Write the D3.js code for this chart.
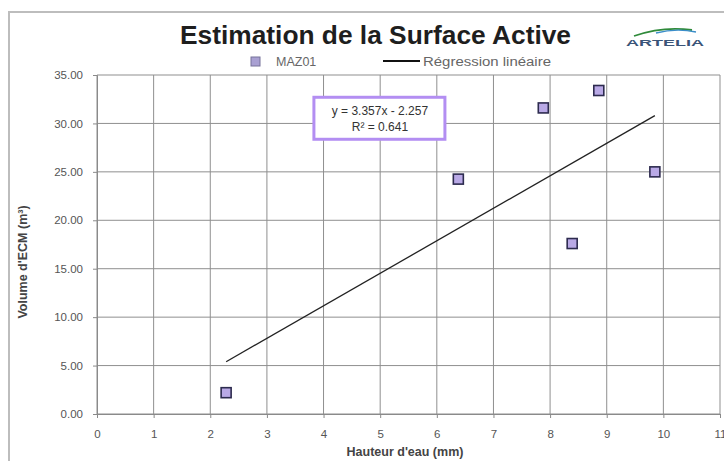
<!DOCTYPE html>
<html>
<head>
<meta charset="utf-8">
<script src="https://cdn.jsdelivr.net/npm/d3@7"></script>
<style>
  body { margin: 0; background: #fff; }
  text { font-family: "Liberation Sans", Arial, sans-serif; }
</style>
</head>
<body>
<div class="canvas"></div>
<script>
// data
const hauteurs = [2.28, 6.38, 7.88, 8.86, 9.85, 8.39];   // mm
const volumes  = [2.2, 24.25, 31.6, 33.4, 25.0, 17.6];  // m3
const xTicks = [0, 1, 2, 3, 4, 5, 6, 7, 8, 9, 10, 11];
const yTicks = [0, 5, 10, 15, 20, 25, 30, 35];
const regression = [3.357, -2.257];   // slope, intercept
const r2 = 0.641;

const W = 724, H = 461;
const margin = { top: 75, right: 4, bottom: 47, left: 97 };

const svg = d3.select('.canvas')
  .append('svg')
  .attr('width', W)
  .attr('height', H);

// chart frame (cut off on the right and bottom)
svg.append('rect')
  .attr('x', 9).attr('y', 12)
  .attr('width', W + 20).attr('height', H + 20)
  .attr('fill', '#fff')
  .attr('stroke', '#bdbdbd')
  .attr('stroke-width', 2);

const graphWidth = W - margin.left - margin.right;
const graphHeight = H - margin.top - margin.bottom;

const graph = svg.append('g')
  .attr('transform', `translate(${margin.left}, ${margin.top})`);

const x = d3.scaleLinear().domain([0, 11]).range([0, graphWidth]);
const y = d3.scaleLinear().domain([0, 35]).range([graphHeight, 0]);

// grid
graph.append('g').selectAll('line')
  .data(xTicks)
  .enter().append('line')
    .attr('x1', d => x(d)).attr('x2', d => x(d))
    .attr('y1', 0).attr('y2', graphHeight)
    .attr('stroke', '#8f8f8f').attr('stroke-width', 1);

graph.append('g').selectAll('line')
  .data(yTicks)
  .enter().append('line')
    .attr('x1', 0).attr('x2', graphWidth)
    .attr('y1', d => y(d)).attr('y2', d => y(d))
    .attr('stroke', '#8f8f8f').attr('stroke-width', 1);

// axes
const xAxis = d3.axisBottom(x).tickValues(xTicks).tickSize(4).tickPadding(12).tickFormat(d3.format('d'));
const yAxis = d3.axisLeft(y).tickValues(yTicks).tickSize(4).tickPadding(10).tickFormat(d3.format('.2f'));

const xAxisGroup = graph.append('g')
  .attr('transform', `translate(0, ${graphHeight})`)
  .call(xAxis);
const yAxisGroup = graph.append('g').call(yAxis);

[xAxisGroup, yAxisGroup].forEach(g => {
  g.select('.domain').attr('stroke', '#8a8a8a');
  g.selectAll('.tick line').attr('stroke', '#8a8a8a');
  g.selectAll('.tick text')
    .attr('fill', '#555')
    .style('font-size', '11.5px');
});

// regression line over the data range
const reg = d => regression[0] * d + regression[1];
const xr = d3.extent(hauteurs);
graph.append('line')
  .attr('x1', x(xr[0])).attr('y1', y(reg(xr[0])))
  .attr('x2', x(xr[1])).attr('y2', y(reg(xr[1])))
  .attr('stroke', '#222')
  .attr('stroke-width', 1.3);

// points
const pts = hauteurs.map((h, i) => ({ h: h, v: volumes[i] }));
graph.selectAll('rect.pt')
  .data(pts)
  .enter().append('rect')
    .attr('class', 'pt')
    .attr('x', d => x(d.h) - 5)
    .attr('y', d => y(d.v) - 5)
    .attr('width', 10).attr('height', 10)
    .attr('fill', '#b9a9e6')
    .attr('stroke', '#2d2b4f')
    .attr('stroke-width', 1.6);

// equation box
const eq = graph.append('g').attr('transform', `translate(${x(3.83)}, ${y(32.7)})`);
eq.append('rect')
  .attr('x', 0).attr('y', 0)
  .attr('width', 131).attr('height', 42)
  .attr('fill', '#fff')
  .attr('stroke', '#b38ef2')
  .attr('stroke-width', 3);
eq.append('text')
  .attr('x', 66).attr('y', 18)
  .attr('text-anchor', 'middle')
  .style('font-size', '12px').attr('fill', '#333')
  .text(`y = ${regression[0]}x - ${Math.abs(regression[1])}`);
eq.append('text')
  .attr('x', 66).attr('y', 34)
  .attr('text-anchor', 'middle')
  .style('font-size', '12px').attr('fill', '#333')
  .text(`R² = ${r2}`);

// axis titles
svg.append('text')
  .attr('x', 405).attr('y', 456)
  .attr('text-anchor', 'middle')
  .style('font-size', '12.5px')
  .style('font-weight', 'bold')
  .attr('fill', '#444')
  .text("Hauteur d'eau (mm)");

svg.append('text')
  .attr('transform', 'translate(27, 262) rotate(-90)')
  .attr('text-anchor', 'middle')
  .style('font-size', '12.5px')
  .style('font-weight', 'bold')
  .attr('fill', '#444')
  .text("Volume d'ECM (m³)");

// title
svg.append('text')
  .attr('x', 180).attr('y', 44)
  .attr('textLength', 391)
  .attr('lengthAdjust', 'spacingAndGlyphs')
  .style('font-size', '25px')
  .style('font-weight', 'bold')
  .attr('fill', '#1e1e1e')
  .text('Estimation de la Surface Active');

// legend
const legend = svg.append('g');
legend.append('rect')
  .attr('x', 251).attr('y', 57)
  .attr('width', 9).attr('height', 9)
  .attr('fill', '#a9a0d2')
  .attr('stroke', '#77729a').attr('stroke-width', 1);
legend.append('text')
  .attr('x', 276).attr('y', 66)
  .style('font-size', '12.5px').attr('fill', '#666')
  .text('MAZ01');
legend.append('line')
  .attr('x1', 383).attr('x2', 420)
  .attr('y1', 61).attr('y2', 61)
  .attr('stroke', '#111').attr('stroke-width', 2);
legend.append('text')
  .attr('x', 423).attr('y', 66)
  .attr('textLength', 128)
  .attr('lengthAdjust', 'spacingAndGlyphs')
  .style('font-size', '12.5px').attr('fill', '#666')
  .text('Régression linéaire');

// logo
const logo = svg.append('g').attr('transform', 'translate(626, 28)');
logo.append('path')
  .attr('d', 'M8,8 C25,2 45,-1 66,2')
  .attr('fill', 'none')
  .attr('stroke', '#2f8a3a').attr('stroke-width', 1.8);
logo.append('path')
  .attr('d', 'M30,5 C42,2 55,1 70,4')
  .attr('fill', 'none')
  .attr('stroke', '#3b8ec9').attr('stroke-width', 1.3);
logo.append('text')
  .attr('x', 0).attr('y', 18)
  .attr('textLength', 78)
  .attr('lengthAdjust', 'spacingAndGlyphs')
  .style('font-size', '9px')
  .style('font-weight', 'bold')
  .attr('fill', '#3a5478')
  .text('ARTELIA');
</script>
</body>
</html>
